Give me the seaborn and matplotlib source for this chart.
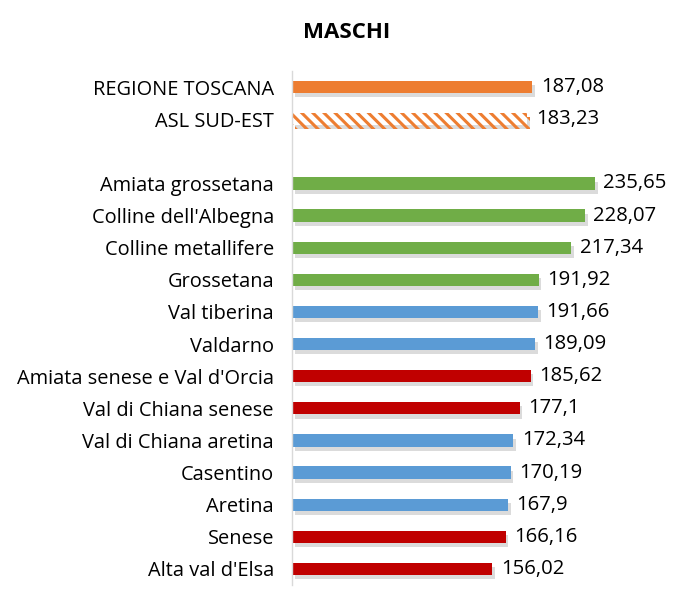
import matplotlib
matplotlib.use("Agg")
import matplotlib.pyplot as plt
import matplotlib.patheffects as pe
import seaborn as sns
import pandas as pd

categories = ["REGIONE TOSCANA", "ASL SUD-EST", "Amiata grossetana", "Colline dell'Albegna",
              "Colline metallifere", "Grossetana", "Val tiberina", "Valdarno",
              "Amiata senese e Val d'Orcia", "Val di Chiana senese", "Val di Chiana aretina",
              "Casentino", "Aretina", "Senese", "Alta val d'Elsa"]
values = [187.08, 183.23, 235.65, 228.07, 217.34, 191.92, 191.66, 189.09,
          185.62, 177.1, 172.34, 170.19, 167.9, 166.16, 156.02]
labels = ["187,08", "183,23", "235,65", "228,07", "217,34", "191,92", "191,66", "189,09",
          "185,62", "177,1", "172,34", "170,19", "167,9", "166,16", "156,02"]
groups = ["toscana", "asl", "gr", "gr", "gr", "gr", "ar", "ar",
          "si", "si", "ar", "ar", "ar", "si", "si"]
group_colors = {"toscana": "#ED7D31", "asl": "#FFFFFF", "gr": "#70AD47",
                "ar": "#5B9BD5", "si": "#C00000"}
title = "MASCHI"

order = categories[:2] + [" "] + categories[2:]

df = pd.DataFrame({"cat": categories, "val": values, "grp": groups})
palette = {c: group_colors[g] for c, g in zip(categories, groups)}
palette[" "] = "#FFFFFF"

sns.set_theme(style="white")
plt.rcParams["font.family"] = ["Open Sans", "DejaVu Sans"]
plt.rcParams["hatch.linewidth"] = 2.2

fig = plt.figure(figsize=(6.99, 6.08), dpi=100)
ax = fig.add_axes([292 / 699, 1 - 585 / 608, 400 / 699, 514 / 608])

sns.barplot(data=df, y="cat", x="val", hue="cat", order=order, hue_order=order,
            palette=palette, width=0.38, legend=False, ax=ax, orient="h",
            saturation=1, linewidth=0)

lab_map = dict(zip(categories, labels))
for patch in ax.patches:
    yc = patch.get_y() + patch.get_height() / 2
    idx = int(round(yc))
    if idx < 0 or idx >= len(order):
        continue
    cat = order[idx]
    if cat == " ":
        continue
    patch.set_path_effects([pe.SimplePatchShadow(offset=(2, -3), shadow_rgbFace="#999999", alpha=0.35),
                            pe.Normal()])
    if cat == "ASL SUD-EST":
        patch.set_hatch("\\\\\\")
        patch.set_edgecolor("#ED7D31")
        patch.set_facecolor("#FFFFFF")
        patch.set_linewidth(0)
    w = patch.get_width()
    ax.annotate(lab_map[cat], xy=(w, yc), xytext=(6, 0), textcoords="offset points",
                va="center", ha="left", fontsize=14.6, color="#000000")

ax.set_xlim(0, 400 / 1.285)
ax.set_ylim(15.5, -0.5)
ax.set_xlabel("")
ax.set_ylabel("")
ax.set_xticks([])
ax.tick_params(axis="y", length=0, labelsize=14.4, pad=13, colors="#000000")
for s in ["top", "right", "bottom"]:
    ax.spines[s].set_visible(False)
ax.spines["left"].set_color("#D9D9D9")
ax.spines["left"].set_linewidth(1)

fig.text(347 / 699, 1 - 32 / 608, title, ha="center", va="center",
         fontsize=16, fontweight="bold", color="#000000")

fig.savefig("out.png", dpi=100, facecolor="white")
